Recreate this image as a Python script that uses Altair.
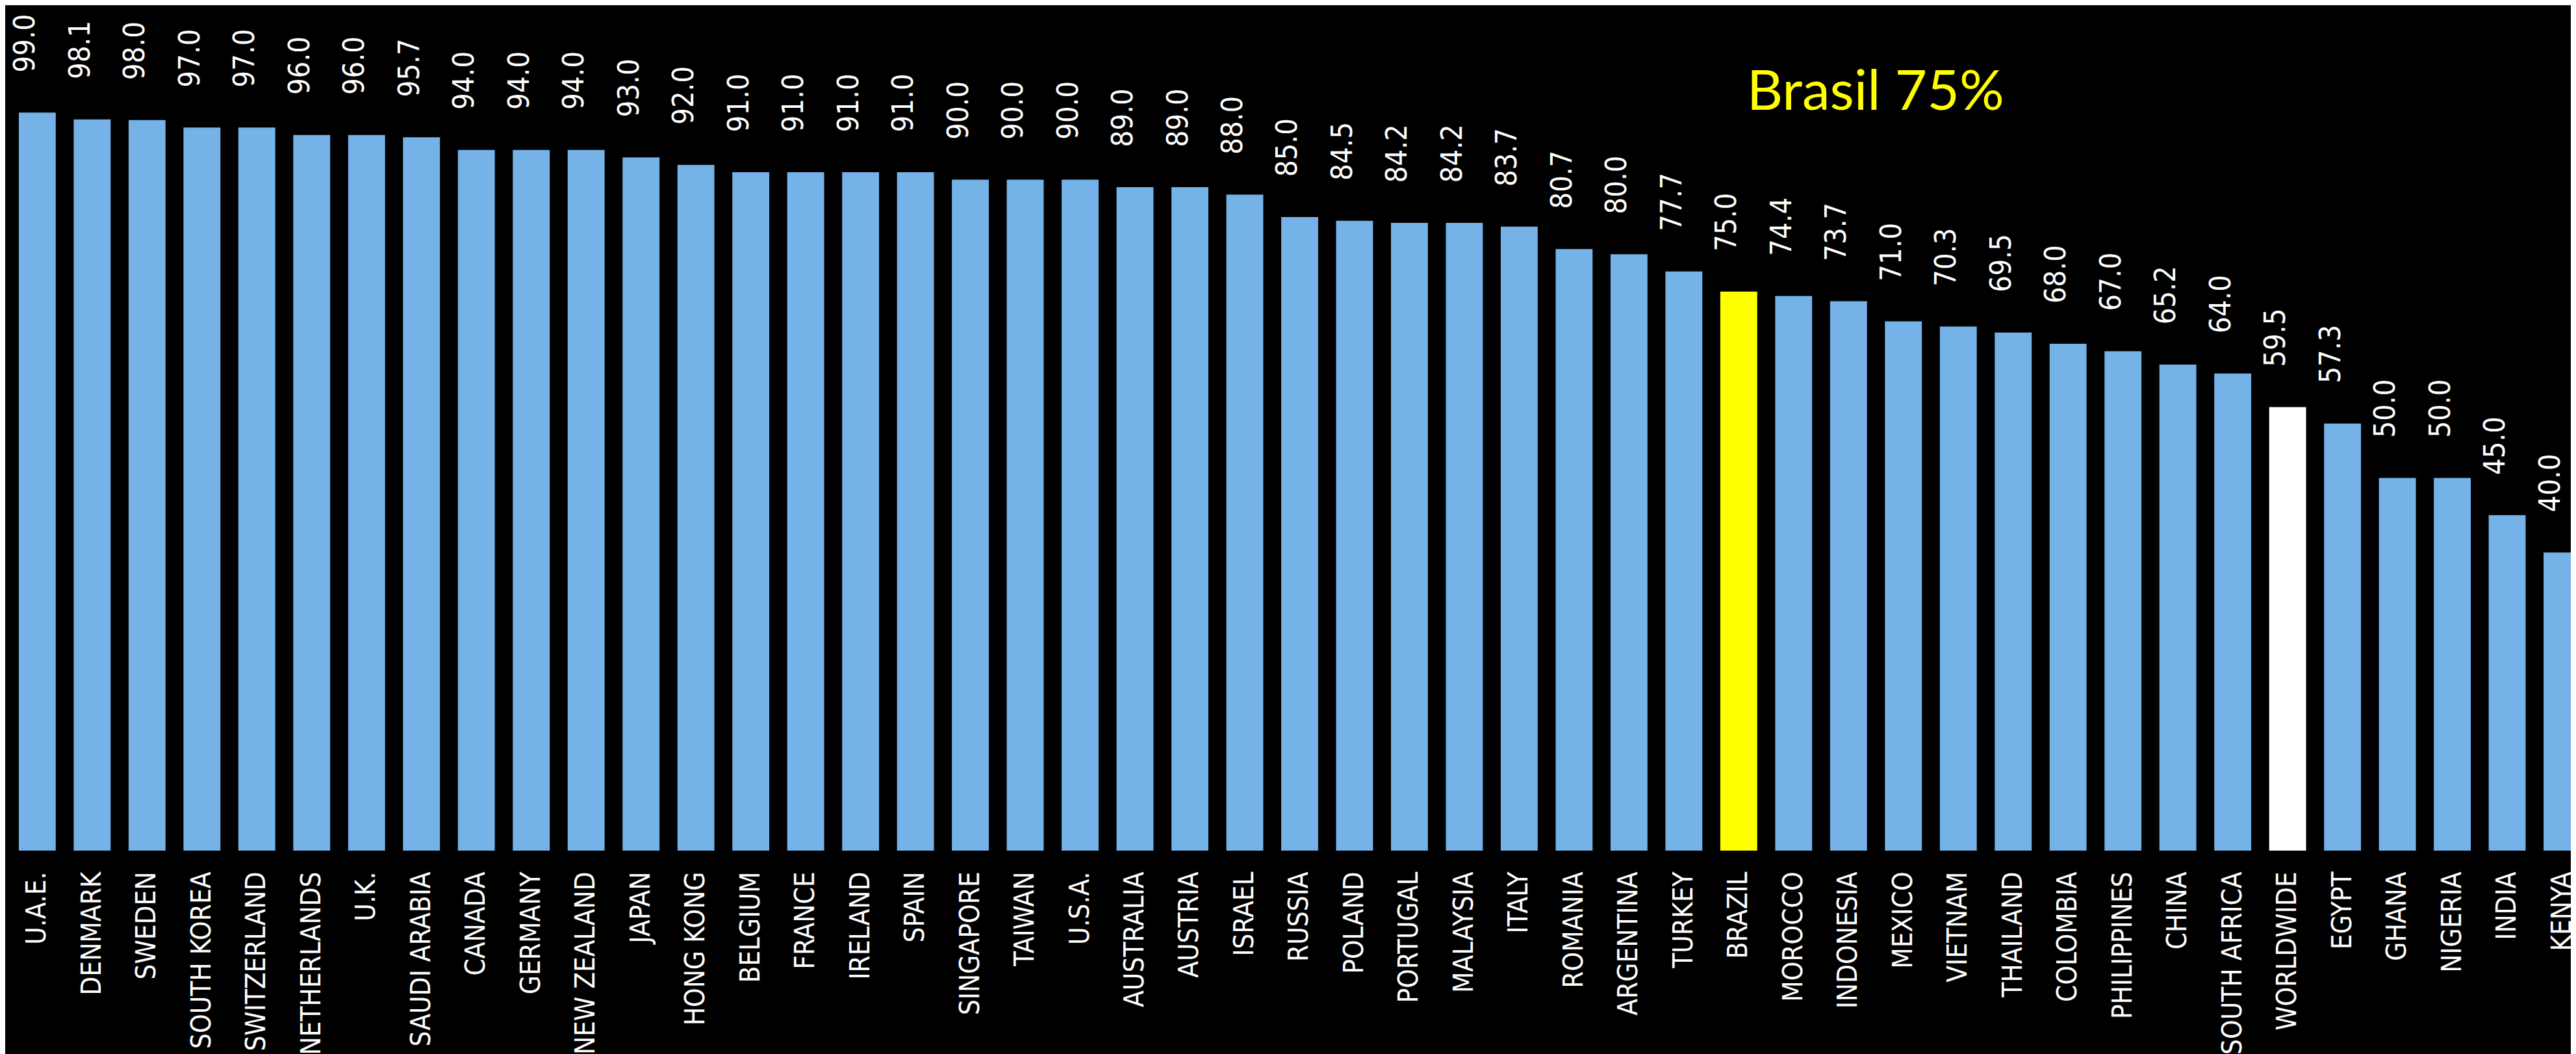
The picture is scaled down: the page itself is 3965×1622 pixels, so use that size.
import altair as alt
import pandas as pd

countries = [
    "U.A.E.", "DENMARK", "SWEDEN", "SOUTH KOREA", "SWITZERLAND", "NETHERLANDS",
    "U.K.", "SAUDI ARABIA", "CANADA", "GERMANY", "NEW ZEALAND", "JAPAN",
    "HONG KONG", "BELGIUM", "FRANCE", "IRELAND", "SPAIN", "SINGAPORE",
    "TAIWAN", "U.S.A.", "AUSTRALIA", "AUSTRIA", "ISRAEL", "RUSSIA",
    "POLAND", "PORTUGAL", "MALAYSIA", "ITALY", "ROMANIA", "ARGENTINA",
    "TURKEY", "BRAZIL", "MOROCCO", "INDONESIA", "MEXICO", "VIETNAM",
    "THAILAND", "COLOMBIA", "PHILIPPINES", "CHINA", "SOUTH AFRICA",
    "WORLDWIDE", "EGYPT", "GHANA", "NIGERIA", "INDIA", "KENYA",
]
values = [
    99.0, 98.1, 98.0, 97.0, 97.0, 96.0,
    96.0, 95.7, 94.0, 94.0, 94.0, 93.0,
    92.0, 91.0, 91.0, 91.0, 91.0, 90.0,
    90.0, 90.0, 89.0, 89.0, 88.0, 85.0,
    84.5, 84.2, 84.2, 83.7, 80.7, 80.0,
    77.7, 75.0, 74.4, 73.7, 71.0, 70.3,
    69.5, 68.0, 67.0, 65.2, 64.0,
    59.5, 57.3, 50.0, 50.0, 45.0, 40.0,
]
special = {"BRAZIL": "Brasil", "WORLDWIDE": "Mundo"}
groups = [special.get(c, "País") for c in countries]

group_domain = ["País", "Brasil", "Mundo"]
group_colors = ["#75B2E8", "#FFFF00", "#FFFFFF"]

annotation_text = ["Brasil 75%"]
annotation_anchor = ["MEXICO"]
annotation_level = [99.35]

df = pd.DataFrame({"country": countries, "value": values, "group": groups})
ann = pd.DataFrame({"country": annotation_anchor, "value": annotation_level,
                    "label": annotation_text})

narrow = "Liberation Sans Narrow, DejaVu Sans Condensed, Roboto, sans-serif"

x_enc = alt.X(
    "country:N",
    sort=countries,
    scale=alt.Scale(range=[0, 3993], paddingInner=0.327, paddingOuter=0.248),
    axis=alt.Axis(
        title=None, domain=False, ticks=False, grid=False,
        labelAngle=270, labelAlign="right", labelBaseline="middle",
        labelPadding=32, labelFont=narrow, labelFontSize=42,
        labelColor="#FFFFFF", labelOverlap=False, labelLimit=2000,
    ),
)
y_enc = alt.Y(
    "value:Q",
    scale=alt.Scale(domain=[0, 113.27], nice=False, zero=True),
    axis=None,
)

bars = alt.Chart(df).mark_bar().encode(
    x=x_enc,
    y=y_enc,
    color=alt.Color("group:N", scale=alt.Scale(domain=group_domain, range=group_colors),
                    legend=None),
)

labels = alt.Chart(df).mark_text(
    angle=270, align="left", baseline="middle", dx=62, dy=-18,
    font=narrow, fontSize=45, color="#FFFFFF",
).encode(
    x=alt.X("country:N", sort=countries),
    y=alt.Y("value:Q"),
    text=alt.Text("value:Q", format=".1f"),
)

note = alt.Chart(ann).mark_text(
    align="center", baseline="alphabetic", dx=-43,
    font="Lato", fontSize=86, color="#FFFF00",
).encode(
    x=alt.X("country:N", sort=countries),
    y=alt.Y("value:Q"),
    text="label:N",
)

page_style = (
    "html, body { background: #000000 !important; background-color: #000000 !important; }"
    " #vis { background: #000000 !important; }"
)

chart = alt.layer(bars, labels, note).properties(
    width=3957,
    height=1302,
    background="#000000",
    autosize=alt.AutoSizeParams(type="none"),
    padding={"left": 0, "top": 0, "right": 0, "bottom": 312},
    usermeta={"embedOptions": {"defaultStyle": page_style}},
).configure_view(stroke=None)

chart.save("out.html", embed_options={"renderer": "svg", "actions": False})
